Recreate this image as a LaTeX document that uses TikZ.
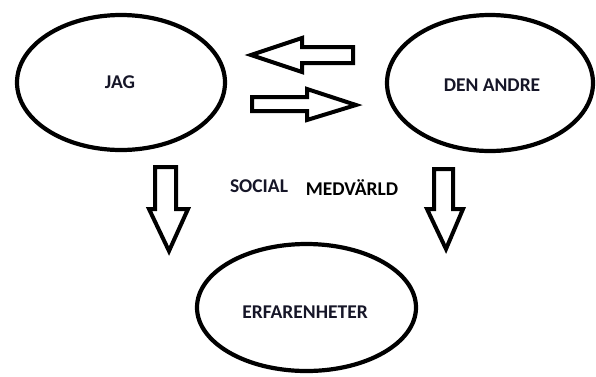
\documentclass[tikz,border=0pt]{standalone}
\usepackage{fontspec}
\setmainfont{Carlito}
\usetikzlibrary{shapes.geometric}
\definecolor{txt}{RGB}{22,22,40}
\tikzset{
  oval/.style={draw=black, line width=4.2pt, ellipse, inner sep=0pt},
  lbl/.style={font=\fontsize{19.5}{22}\selectfont\bfseries, text=txt, inner sep=0pt},
  blockarrow/.style={draw=black, line width=4pt, line join=miter, fill=white}
}
\begin{document}
\begin{tikzpicture}[x=1pt,y=-1pt]
\useasboundingbox (0,0) rectangle (596,376);
\fill[white] (0,0) rectangle (596,376);
% ellipses
\node[oval, minimum width=208pt, minimum height=135pt] (jag) at (121,82.5) {};
\node[oval, minimum width=206pt, minimum height=136pt] (andre) at (490,83) {};
\node[oval, minimum width=219pt, minimum height=127pt] (erf) at (306.5,307.5) {};
% labels
\node[lbl] (tjag) at (120,82) {JAG};
\node[lbl] (tandre) at (492,85) {DEN ANDRE};
\node[lbl] (terf) at (305,312) {ERFARENHETER};
\node[lbl] (tsoc) at (259,186) {SOCIAL};
\node[lbl, text=black] (tmed) at (352,188) {MEDVÄRLD};
% block arrows
\draw[blockarrow] (251,55) -- (302,38) -- (302,47) -- (353,47) -- (353,63) -- (302,63) -- (302,72) -- cycle;
\draw[blockarrow] (252,97) -- (307,97) -- (307,89) -- (356,105) -- (307,120) -- (307,111) -- (252,111) -- cycle;
\draw[blockarrow] (155,167) -- (176,167) -- (176,209) -- (188,209) -- (169,251) -- (149,209) -- (155,209) -- cycle;
\draw[blockarrow] (434,169) -- (453,169) -- (453,209) -- (463,209) -- (446,249) -- (427,209) -- (434,209) -- cycle;
\end{tikzpicture}
\end{document}
